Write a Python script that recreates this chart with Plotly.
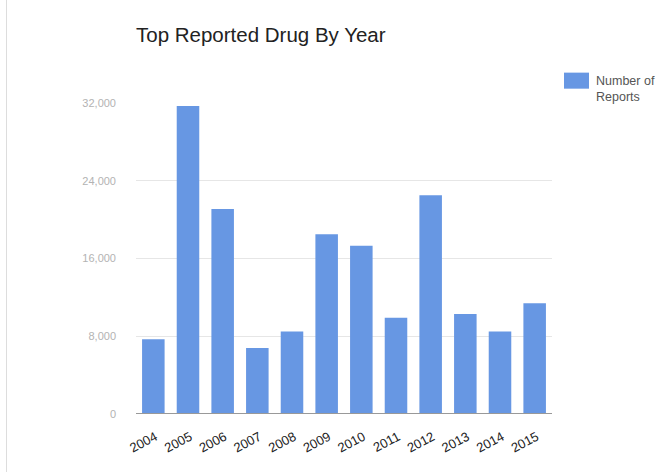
import plotly.graph_objects as go

years = ["2004", "2005", "2006", "2007", "2008", "2009",
         "2010", "2011", "2012", "2013", "2014", "2015"]
reports = [7700, 31700, 21100, 6800, 8500, 18500,
           17300, 9900, 22500, 10300, 8500, 11400]
y_ticks = [0, 8000, 16000, 24000, 32000]
y_tick_labels = ["0", "8,000", "16,000", "24,000", "32,000"]
series_name = "Number of Reports"

W, H = 672, 472
L, R = 136, 552
T, B = 103.3, 413.6

fig = go.Figure()
fig.add_trace(go.Bar(
    x=years, y=reports, name=series_name,
    marker=dict(color="#6797e3", line=dict(width=0)),
    showlegend=False,
))

def px_x(p):
    return (p - L) / (R - L)

def px_y(p):
    return (B - p) / (B - T)

fig.update_layout(
    width=W, height=H,
    margin=dict(l=L, r=W - R, t=T, b=H - B, pad=0),
    paper_bgcolor="white", plot_bgcolor="white",
    bargap=0.35,
    font=dict(family="Liberation Sans, Arial, sans-serif"),
    title=dict(text="Top Reported Drug By Year", x=px_x(136), xref="paper",
               xanchor="left", y=1 - 35 / H, yanchor="middle",
               font=dict(size=20.5, color="#222222")),
    xaxis=dict(showgrid=False, tickangle=-28, ticks="",
               tickfont=dict(size=13, color="#222222"),
               ticklabelshift=2, ticklabelstandoff=12,
               showline=False, zeroline=False),
    yaxis=dict(range=[0, 32000], tickvals=y_ticks, ticktext=y_tick_labels,
               showgrid=True, gridcolor="#e6e6e6", gridwidth=1,
               zeroline=False, showline=False, ticks="",
               ticklabelstandoff=19,
               tickfont=dict(size=11, color="#b3b3b3")),
    shapes=[
        # baseline
        dict(type="line", xref="paper", yref="y", x0=0, x1=1, y0=0, y1=0,
             line=dict(color="#999999", width=2)),
        # left border artifact
        dict(type="line", xref="paper", yref="paper",
             x0=px_x(6.5), x1=px_x(6.5), y0=px_y(0), y1=px_y(472),
             line=dict(color="#dddddd", width=1)),
        # legend swatch
        dict(type="rect", xref="paper", yref="paper",
             x0=px_x(564), x1=px_x(589), y0=px_y(89), y1=px_y(73),
             fillcolor="#6797e3", line=dict(width=0)),
    ],
    annotations=[
        dict(text="Number of<br>Reports", xref="paper", yref="paper",
             x=px_x(594), y=px_y(72), xanchor="left", yanchor="top",
             showarrow=False, align="left",
             font=dict(size=12.5, color="#555555")),
    ],
)

fig.write_html("out.html")
